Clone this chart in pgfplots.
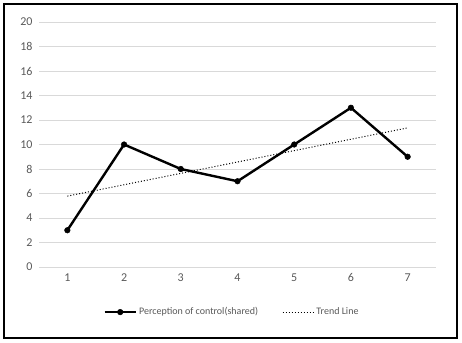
\documentclass[border=0pt]{standalone}
\usepackage{fontspec}
\setmainfont{Carlito}
\usepackage{pgfplots}
\pgfplotsset{compat=1.18}
\definecolor{txtc}{HTML}{595959}
\definecolor{gridc}{HTML}{D9D9D9}
\begin{document}
\begin{tikzpicture}[x=1pt,y=1pt]
\useasboundingbox (-39,-75) rectangle (423,267);
\draw[line width=1.3pt] (-35,-71) rectangle (418,263);
\begin{axis}[
  at={(0,0)}, anchor=south west,
  scale only axis, width=397pt, height=245pt,
  xmin=0.5, xmax=7.5, ymin=0, ymax=20,
  xtick={1,...,7}, ytick={0,2,...,20},
  axis line style={draw=none},
  major tick length=0pt,
  ymajorgrids, xmajorgrids=false, major grid style={draw=gridc, line width=0.8pt},
  tick label style={font=\fontsize{12}{14}\selectfont, text=txtc},
  /pgf/number format/assume math mode=true,
  yticklabel style={xshift=-3pt},
  xticklabel style={yshift=-3pt},
  legend style={at={(axis description cs:0.486,-0.184)}, anchor=center, draw=none,
    font=\fontsize{10}{12}\selectfont, text=txtc, legend columns=2,
    /tikz/every even column/.append style={column sep=22pt}},
  legend cell align=left,
  legend image code/.code={\draw[#1] (0cm,0cm) -- (1.1cm,0cm); \path[#1, mark repeat=1] plot coordinates {(0.55cm,0cm)};},
]
\addplot[black, line width=2.4pt, mark=*, mark size=2.8pt, mark options={line width=0.5pt}] coordinates {(1,3) (2,10) (3,8) (4,7) (5,10) (6,13) (7,9)};
\addlegendentry{Perception of control(shared)}
\addplot[black, line width=1pt, dotted] coordinates {(1,5.786) (7,11.357)};
\addlegendentry{Trend Line}
\end{axis}
\end{tikzpicture}
\end{document}
